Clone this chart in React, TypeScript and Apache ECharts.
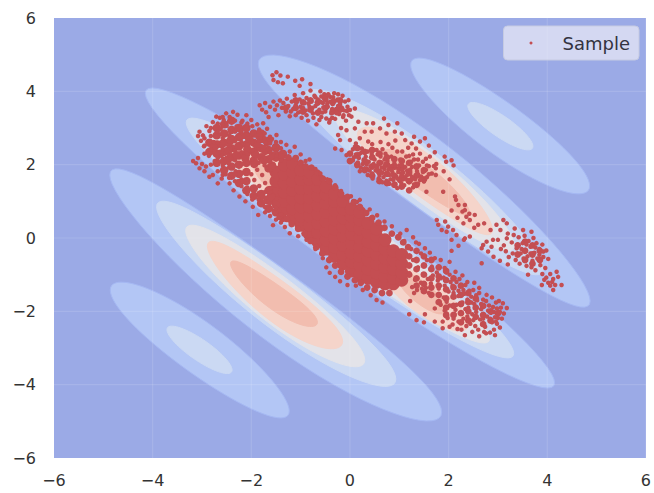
import React, { useEffect, useRef } from "react";
import * as echarts from "echarts";

const tickValues = [-6, -4, -2, 0, 2, 4, 6];
const gridValues = [-4, -2, 0, 2, 4];
const levelColors = ["#B3C6F5", "#CBD9F3", "#E3E3E9", "#F5D4CA", "#F2BDAF"];

// level, left extreme x,y, right extreme x,y, half height at the middle, bow of the middle
const contourLevels = [0,0,0,0,0,1,1,1,1,1,2,2,2,3,3,3,3,4,4,4,4];
const contourLeft = [[1.23,4.72],[-4.86,-1.42],[-4.15,3.95],[-4.87,1.72],[-1.86,4.75],[2.39,3.6],[-3.71,-2.5],[-3.32,3.15],[-3.92,0.85],[-0.93,3.85],[-2.83,2.75],[-3.33,0.2],[-0.3,3.33],[0.65,-0.9],[-2.4,2.35],[-2.89,-0.22],[0.15,2.82],[0.95,-1.05],[-1.95,1.95],[-2.42,-0.7],[0.66,2.3]];
const contourRight = [[4.86,1.42],[-1.23,-4.72],[4.15,-3.95],[1.86,-4.75],[4.87,-1.72],[3.71,2.5],[-2.39,-3.6],[3.32,-3.15],[0.93,-3.85],[3.92,-0.85],[2.83,-2.75],[0.3,-3.33],[3.33,-0.2],[2.4,-2.35],[-0.65,0.9],[-0.15,-2.82],[2.89,0.22],[1.95,-1.95],[-0.95,1.05],[-0.66,-2.3],[2.42,0.7]];
const contourHalf = [0.84,0.84,1.07,1.15,1.15,0.34,0.34,0.88,0.92,0.92,0.8,0.78,0.78,0.55,0.55,0.66,0.66,0.35,0.35,0.39,0.39];
const contourBow = [-0.07,0.07,0,-0.32,0.32,0,0,0,-0.16,0.16,0,-0.1,0.1,0,0,-0.17,0.17,0,0,-0.1,0.1];

const upperTail = [-1.57,4.44,-1.49,4.52,-1.41,4.43,-1.26,4.4,-1.11,4.29,-0.97,4.33,-0.8,4.2,-1.55,4.31,-1.46,4.25,-1.36,4.22,-1.02,4.15,
-1.83,3.62,-1.78,3.5,-1.72,3.68,-1.7,3.43,-1.62,3.58,-1.65,3.3,-1.55,3.72,-1.52,3.5,-1.48,3.62,-1.45,3.35,-1.42,3.75,-1.38,3.55,-1.35,3.68,-1.3,3.45,-1.28,3.8,-1.25,3.6,-1.22,3.32,-1.18,3.72,-1.15,3.52,-1.12,3.9,-1.1,3.62,-1.05,3.42,-1.02,3.78,-1,3.58,-0.98,3.28,-0.95,3.95,-0.92,3.68,-0.9,3.48,-0.88,3.82,-0.85,3.2,-0.82,3.58,-0.8,4.02,-0.78,3.72,-0.75,3.4,-0.72,3.88,-0.7,3.6,-0.68,3.1,-0.65,3.78,-0.62,3.5,-0.6,4,-0.58,3.3,-0.55,3.68,-0.52,3.92,-0.5,3.45,-0.48,3.75,-0.45,3.58,-0.42,3.15,-0.4,3.85,-0.38,3.4,-0.35,3.65,-0.32,3.95,-0.3,3.25,-0.28,3.52,-0.25,3.78,-0.22,3.38,-0.2,3.62,-0.18,3,-0.15,3.88,-0.12,3.48,-0.1,3.72,-0.08,3.2,-0.05,3.58,-0.02,3.35,
-0.84,3.66,-0.76,3.55,-0.66,3.66,-0.6,3.72,-0.54,3.56,-0.46,3.66,-0.36,3.52,-0.3,3.74,-0.24,3.6,-0.16,3.55,-0.4,3.72,-1.2,3.45,-1.08,3.7,-0.95,3.55,
-0.7,3.84,-0.58,3.86,-0.44,3.92,-0.34,3.84,-0.24,3.92,-0.56,3.42,-0.48,3.26,-0.36,3.28,-0.26,3.42,-0.14,3.3,-0.06,3.46,-0.62,3.22,-0.74,3.28,-0.88,3.35,-1,3.45,-1.1,3.35];
const upperMid = [-0.44,3.9,-0.34,3.76,-0.2,3.67,-0.03,3.76,0.1,3.53,0,3.49,-0.13,3.35,-0.27,3.4,-0.41,3.22,0.03,3.31,0.17,3.17,0.34,3.13,0.47,3.13,0.69,3.26,0.61,2.99,0.78,3.08,0.96,3.13,0.91,2.9,1.05,2.85,0.74,2.85,0.44,2.9,0.3,2.9,0.1,2.99,-0.07,2.94,-0.24,2.81,-0.2,2.67,0,2.67,0.2,2.72,0.37,2.63,1.12,2.67,1.3,2.76,1.52,2.72,1.42,2.63,1.25,2.58,-0.17,2.4,-0.07,2.26,-0.3,2.44,0.1,2.49,0.24,2.44,
0.02,2.32,0.06,2.12,0.12,2.28,0.14,1.96,0.18,2.18,0.2,1.82,0.24,2.34,0.26,2.02,0.3,1.9,0.32,2.22,0.36,1.72,0.38,2.08,0.42,1.96,0.44,2.3,0.46,1.62,0.5,2.14,0.52,1.84,0.54,2.4,0.56,1.98,0.6,1.7,0.62,2.22,0.64,2.06,0.66,1.52,0.7,1.88,0.72,2.3,0.74,1.74,0.76,2.1,0.8,1.94,0.82,1.6,0.84,2.22,0.86,1.8,0.9,2.04,0.92,1.48,0.94,1.68,0.96,2.36,0.98,1.88,1,1.56,1.02,2.14,1.04,1.76,1.06,1.98,1.1,1.44,1.12,1.66,1.14,2.22,1.16,1.84,1.18,2.04,1.2,1.52,1.22,1.74,1.26,1.94,1.28,1.38,1.3,2.14,1.32,1.6,1.36,1.82,1.38,1.48,1.4,1.98,1.44,1.68,1.48,2.08,1.5,1.54,1.54,1.86,1.6,1.96,1.66,1.76,1.74,1.9,1.95,2.08,2.02,1.6,2.1,1.98,1.55,1.26,1.89,1.26,2.13,1.13,
0.35,1.88,0.45,1.76,0.55,1.9,0.66,1.78,0.78,1.86,0.88,1.72,0.98,1.8,1.08,1.6,1.16,1.72,1.24,1.58,1.06,1.86,0.9,1.92,0.7,1.96,0.48,2.02,0.58,1.62,0.74,1.56,0.84,1.96,1.34,1.7,1.46,1.6,1.56,1.66,
0.12,2.58,0.45,2.56,0.62,2.62,0.78,2.56,0.92,2.66,1.18,2.46,1.34,2.44,1.6,2.52,1.72,2.34,1.92,2.22,2.06,2.12,1.62,2.22,1.42,2.3,1.75,2.02,1.9,1.82,
2.2,0.9,2.06,0.75,2.28,0.72,2.18,0.55,2.15,1.04,2.33,0.9,2.42,0.66,
0.08,2.2,0.16,2.06,0.22,1.92,0.28,2.14,0.34,2,0.4,1.84,0.46,2.22,0.52,1.96,0.58,1.78,0.64,1.92,0.68,1.66,0.72,2.02,0.8,1.72,0.84,1.86,0.88,1.58,0.92,1.98,0.96,1.62,1,1.98,1.04,1.5,1.08,1.78,1.12,1.94,1.16,1.58,1.22,1.86,1.26,1.66,1.3,1.46,1.34,1.92,1.38,1.74,1.42,1.58,1.48,1.8,1.56,1.98,1.6,1.74,1.7,1.96,1.74,1.72,0.9,2.16,0.7,2.14,0.56,2.28,0.36,2.36,0.2,2.3,1.2,2.24,1.38,2.14,1.54,2.16,1.24,2.08,0.06,2.42,0.66,2.42,0.86,2.46,1.06,2.36,1.28,2.28,0.96,1.36,0.8,1.48];
const upperClumps = [0,2.1,0,2.3,0.15,2,0.15,2.25,0.15,2.45,0.3,1.85,0.3,2.1,0.3,2.35,0.45,1.7,0.45,1.95,0.45,2.2,0.45,2.4,0.6,1.55,0.6,1.8,0.6,2.05,0.6,2.3,0.75,1.5,0.75,1.75,0.75,2,0.75,2.2,0.9,1.45,0.9,1.7,0.9,1.95,0.9,2.15,1.05,1.4,1.05,1.65,1.05,1.9,1.05,2.1,1.2,1.3,1.2,1.55,1.2,1.8,1.2,2.05,1.35,1.45,1.35,1.7,1.35,1.95,1.5,1.6,1.5,1.85,
-1.3,3.55,-1.1,3.55,-1.1,3.75,-0.95,3.45,-0.95,3.7,-0.8,3.5,-0.8,3.75,-0.65,3.42,-0.65,3.7,-0.5,3.55,-0.5,3.8,-0.35,3.45,-0.35,3.7,-0.2,3.5,-0.2,3.75,
3.4,-0.2,3.4,-0.45,3.55,-0.1,3.55,-0.35,3.55,-0.6,3.7,-0.2,3.7,-0.45,3.7,-0.7,3.85,-0.35,3.85,-0.6];
const upperTip = [1.76,0.49,1.79,0.36,1.93,0.45,1.99,0.31,1.86,0.22,1.96,0.17,2.09,0.22,2.16,0.08,2.06,-0.05,2.3,0.4,2.36,0.58,2.33,0.76,2.43,0.49,2.53,0.63,2.6,0.36,2.33,-0.01,2.43,0.04,2.7,-0.19,2.77,-0.1,2.87,-0.24,2.67,-0.28,2.8,-0.37,2.91,-0.51,2.67,-0.69,3.11,0.49,3.18,0.4,2.97,0.36,3,-0.05,3.18,-0.01,2.9,-0.05,2.06,-0.35,2.2,-0.21,2.31,-0.05,2.52,0.28,2.72,0.4,2.85,0.22,3.05,0.22,
3.68,0.17,3.51,0.22,3.34,0.26,3.92,-0.37,4.02,-0.57,4.19,-0.92,4.29,-1.28,4.12,-1.42,3.89,-1.28,3.61,-1,
3.2,0.12,3.28,-0.12,3.32,0.08,3.38,-0.28,3.42,0.02,3.46,-0.42,3.5,-0.14,3.54,0.06,3.56,-0.32,3.6,-0.5,3.62,-0.08,3.66,-0.24,3.7,-0.62,3.72,0,3.74,-0.4,3.78,-0.14,3.8,-0.56,3.84,-0.3,3.86,-0.74,3.9,-0.18,3.92,-0.52,3.96,-0.82,3.98,-0.34,3.12,-0.2,3.16,-0.36,3.22,-0.52,3.3,-0.42,3.36,-0.6,3.44,-0.7,3.52,-0.56,3.58,-0.76,3.68,-0.8,3.76,-0.88,3.4,-0.18,3.48,-0.3,3.58,-0.18,3.66,-0.42,3.76,-0.26,3.84,-0.46,3.06,-0.3,3.04,-0.62,3.2,-0.72,
3.9,-0.98,3.98,-1.08,4.06,-0.98,4.12,-1.12,4.02,-1.22,3.94,-1.14,4.16,-1.28,4.22,-1.06,4.06,-1.3,4.1,-1.2];

const leftArmDots = [-3.18,2.1,-3.12,2.04,-3.05,1.9,-3.08,2.18,-3,2.02,-2.95,1.82,-2.85,1.67,-2.92,1.95,-2.68,1.49,-2.78,1.72,-2.44,1.49,-2.6,1.62,-2.24,1.13,-2.36,1.3,-1.97,0.85,-2.12,1,-1.86,0.63,-1.72,0.7,-1.56,0.35,-1.45,0.55,-1.22,0.13,-1.32,0.3,-0.88,-0.05,-1.05,0.05,-0.7,-0.3,-0.55,-0.55,-0.41,-0.95,-0.3,-1.06,-0.48,-0.8,-0.2,-1.18,-0.05,-1.28,
-3.05,2.9,-2.98,2.8,-3.02,2.65,-3.08,2.78,-2.91,3.05,-2.85,2.92,-2.96,2.5,-2.71,3.31,-2.78,3.16,-2.64,3.28,-2.51,3.4,-2.56,3.22,-2.37,3.44,-2.44,3.3,-2.28,3.36,-2.1,3.35,-2.18,3.2,-2,3.22,-1.88,3.1,-1.76,3.13,-1.84,2.96,-1.68,2.98,-1.49,2.81,-1.58,2.7,-1.4,2.62,-1.29,2.54,-1.12,2.49,-1.22,2.36,-1,2.28,-0.82,2.14,-0.9,2.1,-0.7,1.88,-0.6,1.76,-0.46,1.6,-0.3,1.44,-0.18,1.28,0.02,1.14,0.14,0.98,
-2.76,2.62,-2.7,2.8,-2.62,2.98,-2.5,3.06,-2.42,2.88,-2.3,3.04,-2.2,2.86,-2.1,3.02,-1.96,2.88,-1.82,2.72,-1.7,2.6,-1.54,2.46,-2.86,2.24,-2.74,2.1,-2.6,2.24,-2.46,2.04,-2.32,1.82,-2.2,1.6,-2.08,1.38,-2.52,1.74,-1.96,1.14,-1.84,0.95,-1.7,1.1,-1.6,0.8,-1.72,1.5,-1.62,1.36,-1.78,1.72,-1.88,1.86,-1.94,1.58,-2,1.74,-1.84,1.42,
-2.95,2.3,-2.95,2.52,-2.95,2.72,-2.82,2,-2.82,2.42,-2.82,2.78,-2.82,3,-2.68,1.82,-2.68,2.18,-2.68,2.6,-2.68,2.9,-2.68,3.12,-2.58,1.72,-2.58,1.98,-2.58,2.42,-2.58,2.72,-2.58,3.1,-2.58,3.3,-2.45,1.64,-2.45,1.92,-2.45,2.26,-2.45,2.52,-2.45,2.8,-2.45,3.18,-2.33,1.55,-2.33,1.74,-2.33,2.12,-2.33,2.38,-2.33,2.64,-2.33,2.9,-2.33,3.2,-2.2,1.42,-2.2,1.78,-2.2,2.02,-2.2,2.34,-2.2,2.62,-2.2,2.92,-2.2,3.15,-2.08,1.2,-2.08,1.6,-2.08,1.84,-2.08,2.06,-2.08,2.3,-2.08,2.55,-2.08,2.82,-2.08,3.12,-1.98,1.05,-1.98,1.34,-1.98,2.15,-1.98,2.4,-1.98,2.62,-1.98,2.85,-1.98,3.05,-1.85,1.05,-1.85,1.22,-1.85,2.05,-1.85,2.22,-1.85,2.42,-1.85,2.65,-1.85,2.9,-1.73,0.85,-1.73,1,-1.73,1.25,-1.73,1.98,-1.73,2.2,-1.73,2.48,-1.73,2.72,-1.73,2.85,-1.62,0.6,-1.62,0.95,-1.62,1.25,-1.62,1.85,-1.62,2.1,-1.62,2.34,-1.62,2.58,-1.62,2.76,-1.5,0.5,-1.5,0.82,-1.5,2.14,-1.5,2.38,-1.5,2.62,-1.4,0.42,-1.4,0.65,-1.4,2.12,-1.4,2.45];
const leftArmClumps = [-2.85,2.35,-2.85,2.6,-2.7,2.05,-2.7,2.3,-2.7,2.55,-2.7,2.8,-2.7,3,-2.55,1.85,-2.55,2.1,-2.55,2.35,-2.55,2.6,-2.55,2.85,-2.55,3.1,-2.4,1.7,-2.4,1.95,-2.4,2.2,-2.4,2.45,-2.4,2.7,-2.4,2.95,-2.4,3.2,-2.25,1.5,-2.25,1.75,-2.25,2,-2.25,2.25,-2.25,2.5,-2.25,2.75,-2.25,3,-2.1,1.3,-2.1,1.55,-2.1,1.8,-2.1,2.05,-2.1,2.3,-2.1,2.55,-2.1,2.8,-2.1,3,-1.95,1.15,-1.95,1.35,-1.95,2.1,-1.95,2.35,-1.95,2.6,-1.95,2.85,-1.8,0.95,-1.8,1.2,-1.8,2.2,-1.8,2.45,-1.8,2.7,-1.8,2.85,-1.65,0.8,-1.65,1.05,-1.65,1.3,-1.65,1.9,-1.65,2.15,-1.65,2.4,-1.65,2.65,-1.5,0.7,-1.5,0.9,-1.5,2.2,-1.5,2.45,
-2.76,2.46,-2.64,2.3,-2.6,2.56,-2.48,2.14,-2.46,2.4,-2.42,2.66,-2.3,2.26,-2.26,2.5,-2.22,2.78,-2.12,2.18,-2.08,2.42,-2.04,2.68,-1.94,2.02,-1.92,2.28,-1.88,2.52,-1.84,2.78,-1.74,2.12,-1.72,2.38,-1.68,2.62,-1.58,1.98,-1.56,2.24,-1.5,2.48,-1.44,2.24,-1.36,2.3,-1.8,1.14,-1.66,1.02,-1.6,1.14,-1.48,0.72,-1.36,0.55];
const coreClumps = [-1.5,1.05,-1.5,1.3,-1.5,1.55,-1.5,1.8,-1.33,0.78,-1.33,1,-1.33,1.25,-1.33,1.5,-1.33,1.75,-1.33,2,-1.16,0.55,-1.16,0.8,-1.16,1.05,-1.16,1.3,-1.16,1.55,-1.16,1.8,-1.16,2.02,-0.99,0.35,-0.99,0.6,-0.99,0.85,-0.99,1.1,-0.99,1.35,-0.99,1.6,-0.99,1.85,-0.82,0.1,-0.82,0.35,-0.82,0.6,-0.82,0.85,-0.82,1.1,-0.82,1.35,-0.82,1.6,-0.82,1.8,-0.65,-0.1,-0.65,0.15,-0.65,0.4,-0.65,0.65,-0.65,0.9,-0.65,1.15,-0.65,1.4,-0.65,1.6,-0.48,-0.3,-0.48,-0.05,-0.48,0.2,-0.48,0.45,-0.48,0.7,-0.48,0.95,-0.48,1.2,-0.48,1.4,-0.31,-0.5,-0.31,-0.25,-0.31,0,-0.31,0.25,-0.31,0.5,-0.31,0.75,-0.31,1,-0.31,1.2,-0.14,-0.7,-0.14,-0.45,-0.14,-0.2,-0.14,0.05,-0.14,0.3,-0.14,0.55,-0.14,0.8,-0.14,1,0.03,-0.9,0.03,-0.65,0.03,-0.4,0.03,-0.15,0.03,0.1,0.03,0.35,0.03,0.6,0.03,0.8,0.2,-1,0.2,-0.75,0.2,-0.5,0.2,-0.25,0.2,0,0.2,0.25,0.2,0.5,0.2,0.7,0.37,-1.1,0.37,-0.85,0.37,-0.6,0.37,-0.35,0.37,-0.1,0.37,0.15,0.37,0.4,0.54,-1.2,0.54,-0.95,0.54,-0.7,0.54,-0.45,0.54,-0.2,0.54,0.05,0.54,0.25,0.71,-1.25,0.71,-1.05,0.71,-0.8,0.71,-0.55,0.71,-0.3,0.71,-0.05,0.88,-1.25,0.88,-1.1,0.88,-0.85,0.88,-0.6,0.88,-0.35,1.05,-1.15,1.05,-0.95,1.05,-0.7,1.05,-0.45];
const coreEdge = [-1.38,2.22,-1.25,2.2,-1.1,2.18,-1,2.05,-0.9,1.95,-0.78,1.92,-0.66,1.78,-0.55,1.62,-0.42,1.55,-0.3,1.38,-0.18,1.2,-0.05,1.12,0.08,0.98,0.2,0.85,0.33,0.68,0.45,0.55,0.58,0.42,0.7,0.28,0.85,0.12,0.98,0.02,1.08,-0.12,1.18,-0.25,
-1.65,0.82,-1.52,0.72,-1.42,0.6,-1.28,0.52,-1.18,0.38,-1.05,0.25,-0.92,0.12,-0.8,-0.08,-0.68,-0.25,-0.56,-0.42,-0.42,-0.6,-0.3,-0.75,-0.18,-0.92,-0.05,-1.05,0.1,-1.15,0.22,-1.22,0.35,-1.35,0.5,-1.42,0.65,-1.5,0.8,-1.5,
1.2,-0.5,1.2,-0.75,1.2,-1,1.35,-0.35,1.35,-0.6,1.35,-0.85,1.35,-1.1,1.35,-1.3,1.5,-0.5,1.5,-0.75,1.5,-1,1.5,-1.25,1.5,-1.45,1.65,-0.6,1.65,-0.85,1.65,-1.1,1.65,-1.35,1.65,-1.55,1.8,-0.8,1.8,-1.05,1.8,-1.3,1.8,-1.55,1.8,-1.75,1.95,-0.9,1.95,-1.15,1.95,-1.4,1.95,-1.65,1.95,-1.9,1.95,-2.1,2.1,-1.1,2.1,-1.35,2.1,-1.6,2.1,-1.85,2.1,-2.1,2.25,-1.3,2.25,-1.55,2.25,-1.8,2.25,-2.05,2.25,-2.3,2.4,-1.5,2.4,-1.75,2.4,-2,2.4,-2.25,2.55,-1.65,2.55,-1.9,2.55,-2.15,2.7,-1.85,2.7,-2.1,2.7,-2.35,2.85,-2,2.85,-2.25,3,-2.05];
const rightArmDots = [0.2,1.04,0.4,0.78,0.55,0.62,0.7,0.45,0.85,0.32,1.15,0.22,1.02,0.12,1.28,0.02,1.4,-0.16,1.52,-0.28,1.62,-0.4,1.72,-0.55,1.84,-0.6,2.02,-0.65,1.92,-0.82,2.14,-0.92,2.28,-1.02,2.38,-1.2,2.52,-1.22,2.62,-1.36,2.77,-1.55,2.88,-1.62,3.02,-1.72,3.18,-1.91,3.12,-2.06,3.08,-2.2,2.98,-2.34,2.92,-2.5,2.94,-2.65,2.76,-2.6,2.62,-2.68,2.48,-2.56,2.33,-2.65,2.18,-2.48,2.02,-2.42,1.88,-2.46,1.72,-2.28,1.5,-2.3,1.35,-2.24,1.2,-2.08,0.66,-1.76,0.54,-1.69,0.42,-1.56,0.26,-1.42,0.12,-1.3,
1.22,-1.72,1.3,-1.5,1.46,-1.38,1.52,-2.08,1.6,-1.5,1.64,-1.24,1.72,-1.92,1.8,-1.38,1.84,-1.1,1.88,-2.28,1.92,-1.98,1.96,-1.74,2,-1.46,2.04,-1.2,2.08,-2.36,2.12,-2.08,2.16,-1.82,2.2,-1.58,2.24,-1.32,2.26,-2.5,2.3,-2.2,2.34,-1.94,2.38,-1.68,2.42,-1.44,2.44,-2.34,2.48,-2.08,2.52,-1.8,2.56,-1.56,2.6,-2.5,2.64,-2.22,2.66,-1.94,2.7,-1.68,2.74,-2.42,2.78,-2.14,2.82,-1.84,2.84,-2.58,2.88,-2.3,2.92,-2.02,2.96,-1.76,3,-2.18,3.04,-2.44,3.06,-1.9,3.1,-1.78,
1.1,-0.08,1.24,-0.3,1.34,-0.12,1.44,-0.42,1.56,-0.6,1.66,-0.78,1.76,-0.94,1.9,-1.08,2.02,-1,2.16,-1.2,2.3,-1.42,2.46,-1.6,1.28,-0.6,1.38,-0.8,1.48,-0.98,1.58,-1.12,1.68,-1.02,1.2,-0.96,1.32,-1.14,1.44,-1.22,1.26,-1.34,1.36,-1.42,1.54,-1.36,1.92,-1.3,2.1,-1.5,2.28,-1.76,2.4,-1.9,2.56,-2.02,2.7,-2.2,2.86,-2.04,2.98,-1.92,2.66,-1.8,2.8,-1.98,2.94,-2.16,1.98,-2.18,2.2,-2.28,2.36,-2.4,2.54,-2.4,2.72,-2.56,
1.8,-0.78,1.96,-0.94,2.1,-1.08,2.22,-1.12,2.34,-1.28,2.5,-1.42,2.62,-1.5,2.76,-1.72,2.9,-1.88,3.04,-2.02,2.08,-1.3,2.2,-1.44,2.32,-1.52,2.46,-1.76,2.58,-1.7,2.72,-1.86,2.84,-2.2,2.96,-2.28,1.78,-1.16,1.9,-1.62,2.02,-1.84,2.14,-1.96,2.26,-2.06,2.38,-2.14,2.5,-2.24,1.84,-1.82,1.96,-2.06,2.1,-2.2];

const pairs = (flat: number[]) => {
  const out: number[][] = [];
  for (let i = 0; i + 1 < flat.length; i += 2) out.push([flat[i], flat[i + 1]]);
  return out;
};
const sized = (flat: number[], size: number) => pairs(flat).map((p) => [p[0], p[1], size]);

const OUTLINE_STEPS = 72;

export default function App() {
  const ref = useRef<HTMLDivElement>(null);
  useEffect(() => {
    const chart = echarts.init(ref.current!, undefined, { renderer: "svg" });
    const axisBase = {
      type: "value",
      min: -6,
      max: 6,
      interval: 2,
      axisLine: { show: false },
      axisTick: { show: false },
      splitLine: { show: false },
    };
    const labelStyle = {
      color: "#333333",
      fontFamily: "DejaVu Sans",
      fontSize: 16,
      formatter: (v: number) => String(v).replace("-", "\u2212"),
    };
    const samples = [
      ...sized(coreClumps, 13),
      ...sized(leftArmClumps, 8.5),
      ...sized(coreEdge, 6.8),
      ...sized(upperClumps, 6.8),
      ...sized(upperTail, 4.5),
      ...sized(upperMid, 4.5),
      ...sized(upperTip, 4.5),
      ...sized(leftArmDots, 4.5),
      ...sized(rightArmDots, 4.5),
    ];
    chart.setOption({
      animation: false,
      backgroundColor: "#FFFFFF",
      grid: { left: 54, top: 18, width: 592, height: 440, show: true, backgroundColor: "#9BAAE6", borderWidth: 0 },
      xAxis: { ...axisBase, axisLabel: { ...labelStyle, margin: 14 } },
      yAxis: { ...axisBase, axisLabel: { ...labelStyle, margin: 18 } },
      legend: {
        data: [{ name: "Sample", icon: "circle" }],
        right: 15,
        top: 26,
        itemWidth: 3,
        itemHeight: 3,
        padding: [8, 9, 8, 26],
        backgroundColor: "rgba(234,234,246,0.72)",
        borderColor: "#C6CBE2",
        borderWidth: 1,
        borderRadius: 4,
        textStyle: { color: "#333340", fontFamily: "DejaVu Sans", fontSize: 18, padding: [0, 0, 0, 25] },
      },
      series: [
        {
          type: "custom",
          name: "contours",
          z: 1,
          silent: true,
          data: contourLevels.map((lv, i) => [contourLeft[i][0], contourLeft[i][1], i]),
          renderItem: (params: any, api: any) => {
            const i = params.dataIndex;
            const [lx, ly] = contourLeft[i];
            const [rx, ry] = contourRight[i];
            const cx = (lx + rx) / 2;
            const cy = (ly + ry) / 2;
            const points: number[][] = [];
            for (let k = 0; k < OUTLINE_STEPS; k++) {
              const t = (k / OUTLINE_STEPS) * Math.PI * 2;
              const c = Math.cos(t);
              const s = Math.sin(t);
              points.push(api.coord([
                cx + ((rx - lx) / 2) * c,
                cy + ((ry - ly) / 2) * c + contourHalf[i] * s + contourBow[i] * s * s,
              ]));
            }
            const lv = contourLevels[i];
            return {
              type: "polygon",
              shape: { points },
              style: { fill: levelColors[lv], stroke: lv === 0 ? "#A5B8F3" : levelColors[lv], lineWidth: 1 },
            };
          },
        },
        {
          type: "custom",
          name: "grid",
          z: 2,
          silent: true,
          data: gridValues.flatMap((v) => [[v, 0], [0, v]]),
          renderItem: (params: any, api: any) => {
            const vertical = params.dataIndex % 2 === 0;
            const v = vertical ? api.value(0) : api.value(1);
            const a = vertical ? api.coord([v, -6]) : api.coord([-6, v]);
            const b = vertical ? api.coord([v, 6]) : api.coord([6, v]);
            return {
              type: "line",
              shape: { x1: a[0], y1: a[1], x2: b[0], y2: b[1] },
              style: { stroke: "rgba(255,255,255,0.12)", lineWidth: 1.2 },
            };
          },
        },
        {
          type: "scatter",
          name: "Sample",
          z: 3,
          data: samples,
          symbolSize: (v: number[]) => v[2],
          itemStyle: { color: "#C44E52", opacity: 1 },
        },
      ],
    });
    return () => chart.dispose();
  }, []);
  return <div ref={ref} style={{ position: "fixed", left: 0, top: 0, width: 654, height: 493 }} />;
}
